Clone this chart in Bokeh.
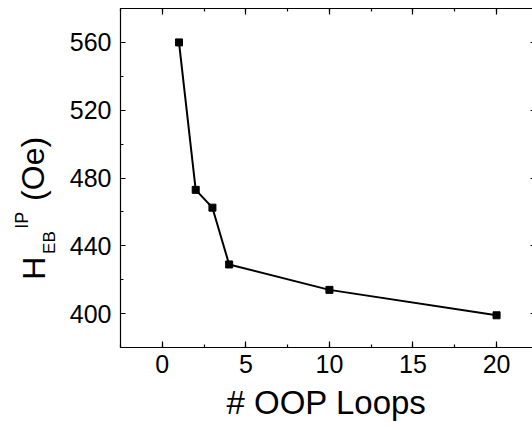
import math
from bokeh.plotting import figure
from bokeh.layouts import row
from bokeh.core.properties import value
from bokeh.models import LinearAxis, SingleIntervalTicker, Range1d, ColumnDataSource
from bokeh.embed import file_html
from bokeh.resources import INLINE

# data
loops = [1, 2, 3, 4, 10, 20]
h_eb = [560, 473, 462.5, 429, 414, 399]

x_ticks_interval = 5
y_ticks_interval = 40

# y-axis title pieces: H_EB^IP (Oe)
title_parts = ["H", "EB", "IP", "(Oe)"]

FONT = "Liberation Sans"
TOP, BOTTOM = 8, 83
LEFT_W = 64

y_rng = Range1d(380, 580)

p = figure(width=532 - LEFT_W, height=430, output_backend="svg", toolbar_location=None,
           x_range=Range1d(-2.5, 22.15), y_range=y_rng,
           min_border_left=120 - LEFT_W, min_border_right=0,
           min_border_top=TOP, min_border_bottom=BOTTOM)
p.outline_line_color = None
p.xgrid.visible = False
p.ygrid.visible = False
p.background_fill_color = "white"
p.border_fill_color = "white"

def style_axis(ax, interval, tick_in, minor_in=3, labels=True):
    ax.ticker = SingleIntervalTicker(interval=interval, num_minor_ticks=2)
    ax.axis_line_color = "black"
    ax.axis_line_width = 1.2
    ax.major_tick_in = tick_in
    ax.major_tick_out = 0
    ax.minor_tick_in = minor_in
    ax.minor_tick_out = 0
    ax.major_tick_line_color = "black"
    ax.minor_tick_line_color = "black"
    ax.major_tick_line_width = 1.2
    ax.minor_tick_line_width = 1.2
    if labels:
        ax.major_label_text_font = FONT
        ax.major_label_text_font_size = "25px"
        ax.major_label_text_color = "black"
    else:
        ax.major_label_text_font_size = "0px"
        ax.major_label_standoff = 0
        ax.major_label_text_color = None

xa = p.xaxis[0]
style_axis(xa, x_ticks_interval, 6)
xa.major_label_standoff = 7
xa.axis_label = "# OOP Loops"
xa.axis_label_text_font = FONT
xa.axis_label_text_font_size = "33px"
xa.axis_label_text_font_style = "normal"
xa.axis_label_text_color = "black"
xa.axis_label_standoff = 8

ya = p.yaxis[0]
style_axis(ya, y_ticks_interval, 5)
ya.major_label_standoff = 9

top = LinearAxis()
style_axis(top, x_ticks_interval, 6, labels=False)
p.add_layout(top, "above")
right = LinearAxis()
style_axis(right, y_ticks_interval, 2, minor_in=0, labels=False)
right.axis_line_color = None
p.add_layout(right, "right")

p.line(loops, h_eb, line_color="black", line_width=2)
p.scatter(loops, h_eb, marker="square", size=7, fill_color="black", line_color="black")

# narrow panel holding the rotated y-axis title
t = figure(width=LEFT_W, height=430, output_backend="svg", toolbar_location=None,
           x_range=Range1d(0, LEFT_W), y_range=y_rng,
           x_axis_type=None, y_axis_type=None,
           min_border_left=0, min_border_right=0,
           min_border_top=TOP, min_border_bottom=BOTTOM)
t.outline_line_color = None
t.xgrid.visible = False
t.ygrid.visible = False
t.border_fill_color = "white"
src = ColumnDataSource(dict(
    text=title_parts,
    x=[33, 49, 21, 32],
    y=[419.9, 435.2, 450.0, 466.5],
    size=["32px", "17px", "18px", "32px"],
))
t.text(x="x", y="y", text="text", source=src, angle=math.pi / 2,
       text_font_size="size", text_font=value(FONT),
       text_color="black", text_baseline="middle", text_align="left")

layout = row(t, p, spacing=0)
open("out.html", "w").write(file_html(layout, INLINE))
